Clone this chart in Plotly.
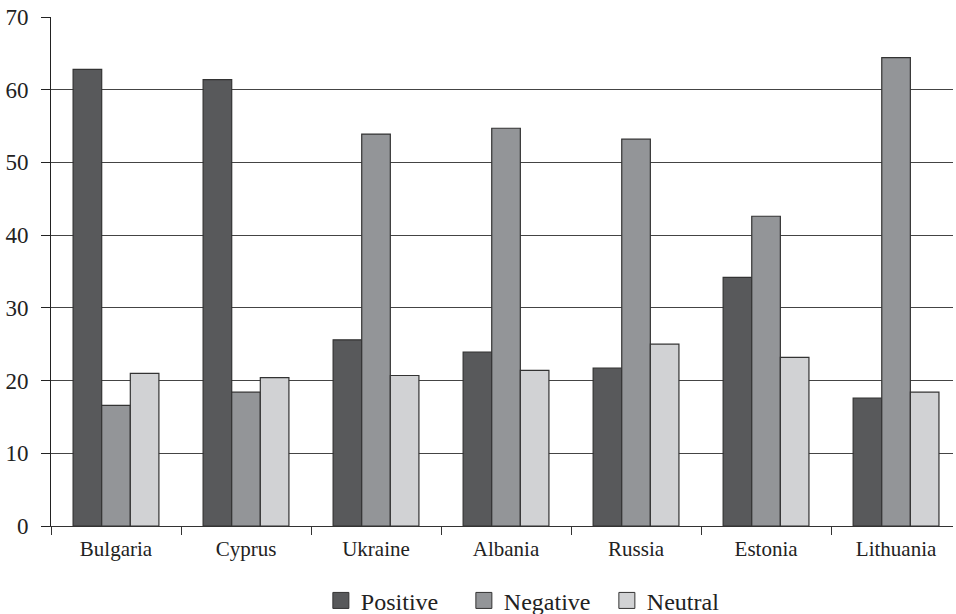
import plotly.graph_objects as go

countries = ["Bulgaria", "Cyprus", "Ukraine", "Albania", "Russia", "Estonia", "Lithuania"]
positive = [62.8, 61.4, 25.6, 23.9, 21.7, 34.2, 17.6]
negative = [16.6, 18.4, 53.9, 54.7, 53.2, 42.6, 64.4]
neutral = [21.0, 20.4, 20.7, 21.4, 25.0, 23.2, 18.4]
y_ticks = [0, 10, 20, 30, 40, 50, 60, 70]

series = [("Positive", positive, "#58595b"),
          ("Negative", negative, "#939598"),
          ("Neutral", neutral, "#d1d2d4")]

fig = go.Figure()
for name, vals, col in series:
    fig.add_trace(go.Bar(x=countries, y=vals, name=name, showlegend=False,
                         marker=dict(color=col, line=dict(color="#333333", width=1.2))))
for name, vals, col in series:
    fig.add_trace(go.Scatter(x=[None], y=[None], mode="markers", name=name,
                             marker=dict(symbol="square", size=16, color=col,
                                         line=dict(color="#333333", width=1))))

font = "Liberation Serif, Times New Roman, serif"
fig.update_layout(
    width=956, height=614,
    margin=dict(l=51, r=3, t=17, b=88, autoexpand=False),
    paper_bgcolor="white", plot_bgcolor="white",
    barmode="group", bargap=0.34, bargroupgap=0,
    font=dict(family=font, color="#222222"),
    showlegend=True,
    legend=dict(orientation="h", x=0.537, xanchor="center",
                y=-0.147, yanchor="middle", font=dict(size=24, family=font),
                itemwidth=30, tracegroupgap=0, entrywidth=98, itemsizing="trace"),
)
fig.update_xaxes(
    type="category", range=[-0.5, 6.438], tickson="boundaries",
    ticks="outside", ticklen=8, tickcolor="#333333", tickwidth=1,
    showline=True, linecolor="#333333", linewidth=1,
    tickfont=dict(size=21, family=font), showgrid=False,
    automargin=False, ticklabelstandoff=4,
)
fig.update_yaxes(
    range=[0, 70], tickvals=y_ticks, ticks="outside", ticklen=9,
    tickcolor="#222222", tickwidth=1,
    showline=True, linecolor="#222222", linewidth=1,
    showgrid=True, gridcolor="#444444", gridwidth=1,
    zeroline=False, tickfont=dict(size=23, family=font),
    automargin=False, ticklabelstandoff=8,
)
fig.write_html("out.html", config={"displayModeBar": False},
               post_script="document.body.style.margin='0';document.body.style.overflow='hidden';")
